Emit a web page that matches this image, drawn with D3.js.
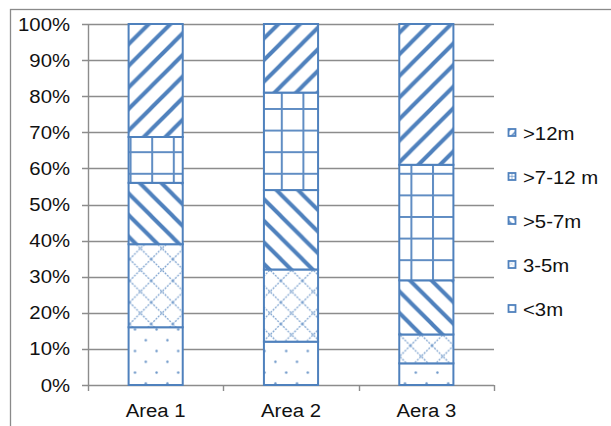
<!DOCTYPE html>
<html>
<head>
<meta charset="utf-8">
<script src="https://cdn.jsdelivr.net/npm/d3@7"></script>
<style>
  html, body { margin: 0; padding: 0; background: #fff; }
  svg { display: block; }
  text { font-family: "Liberation Sans", Arial, sans-serif; fill: #111; }
</style>
</head>
<body>
<svg id="chart" width="611" height="426"></svg>
<script>
// ---- data ----
const categories = ["Area 1", "Area 2", "Aera 3"];
const seriesNames = ["<3m", "3-5m", ">5-7m", ">7-12 m", ">12m"];
const lessThan3 = [16, 12, 6];
const from3to5 = [23, 20, 8];
const from5to7 = [17, 22, 15];
const from7to12 = [12.7, 27, 32];
const over12 = [31.3, 19, 39];
const yTickValues = [0, 10, 20, 30, 40, 50, 60, 70, 80, 90, 100];
const legendOrder = [">12m", ">7-12 m", ">5-7m", "3-5m", "<3m"];

const seriesValues = [lessThan3, from3to5, from5to7, from7to12, over12];
const rows = categories.map((c, i) => {
  const r = { cat: c };
  seriesNames.forEach((s, j) => r[s] = seriesValues[j][i]);
  return r;
});

// ---- setup ----
const svg = d3.select("#chart");
const blue = "#4F81BD";
const gridCol = "#8c8c8c";
const FS = 18, SX = 1.13;

const x = d3.scaleBand().domain(categories).range([88, 494]).paddingInner(0.6).paddingOuter(0.3);
const y = d3.scaleLinear().domain([0, 100]).range([385, 24]);

// ---- patterns ----
const defs = svg.append("defs");
const P = 21.6;
const patIds = {};
function makePattern(id, drawFn, scale) {
  const p = defs.append("pattern").attr("id", id)
    .attr("patternUnits", "userSpaceOnUse")
    .attr("width", P).attr("height", P);
  if (scale) p.attr("patternTransform", `scale(${scale})`);
  p.append("rect").attr("width", P).attr("height", P).attr("fill", "#fff");
  drawFn(p);
}
function upDiag(p) {
  p.append("path")
    .attr("d", `M0,${P} L${P},0 M${-P/2},${P/2} L${P/2},${-P/2} M${P/2},${1.5*P} L${1.5*P},${P/2}`)
    .attr("stroke", blue).attr("stroke-width", 4).attr("fill", "none");
}
function downDiag(p) {
  p.append("path")
    .attr("d", `M0,0 L${P},${P} M${-P/2},${P/2} L${P/2},${1.5*P} M${P/2},${-P/2} L${1.5*P},${P/2}`)
    .attr("stroke", blue).attr("stroke-width", 4).attr("fill", "none");
}
function gridPat(p) {
  p.append("path").attr("d", `M1,0 V${P} M0,1 H${P}`)
    .attr("stroke", blue).attr("stroke-width", 2).attr("fill", "none").attr("stroke-opacity", 0.9);
}
function crossPat(p) {
  p.append("path")
    .attr("d", `M0,0 L${P},${P} M0,${P} L${P},0`)
    .attr("stroke", blue).attr("stroke-width", 1.3).attr("fill", "none")
    .attr("stroke-opacity", 0.75).attr("stroke-dasharray", "2,1.2");
}
function dotPat(p) {
  p.append("circle").attr("cx", P * 0.25).attr("cy", P * 0.25).attr("r", 1.2).attr("fill", blue).attr("fill-opacity", 0.85);
  p.append("circle").attr("cx", P * 0.75).attr("cy", P * 0.75).attr("r", 1.2).attr("fill", blue).attr("fill-opacity", 0.85);
}
const drawers = { "<3m": dotPat, "3-5m": crossPat, ">5-7m": downDiag, ">7-12 m": gridPat, ">12m": upDiag };
seriesNames.forEach((s, i) => {
  makePattern("pat" + i, drawers[s]);
  makePattern("mini" + i, drawers[s], 0.37);
  patIds[s] = i;
});

// ---- outer frame ----
svg.append("rect").attr("x", 10.5).attr("y", 9.5).attr("width", 800).attr("height", 600)
  .attr("fill", "none").attr("stroke", "#8a8a8a").attr("stroke-width", 1.3);

// ---- gridlines ----
svg.append("g").selectAll("line").data(yTickValues).join("line")
  .attr("x1", 82).attr("x2", 494)
  .attr("y1", d => Math.round(y(d)) + 0.5).attr("y2", d => Math.round(y(d)) + 0.5)
  .attr("stroke", gridCol).attr("stroke-width", 1.4);

// y axis line
svg.append("line").attr("x1", 88.5).attr("x2", 88.5).attr("y1", y(100)).attr("y2", 391)
  .attr("stroke", gridCol).attr("stroke-width", 1.4);

// x axis ticks (boundaries)
const step = x.step();
const bounds = [1, 2, 3].map(i => 88 + i * step);
svg.append("g").selectAll("line").data(bounds).join("line")
  .attr("x1", d => Math.round(d) + 0.5).attr("x2", d => Math.round(d) + 0.5)
  .attr("y1", 385).attr("y2", 391)
  .attr("stroke", gridCol).attr("stroke-width", 1.4);

// ---- text helper ----
function addText(g, tx, ty, str, anchor) {
  g.append("text").attr("transform", `translate(${tx},${ty}) scale(${SX},1)`)
    .attr("text-anchor", anchor).attr("font-size", FS).text(str);
}

// y labels
const yl = svg.append("g");
yTickValues.forEach(v => addText(yl, 70, y(v) + 6.5, v + "%", "end"));

// x labels
const xl = svg.append("g");
categories.forEach(c => addText(xl, x(c) + x.bandwidth() / 2, 417, c, "middle"));

// ---- bars ----
const stack = d3.stack().keys(seriesNames)(rows);
svg.append("g").selectAll("g").data(stack).join("g")
  .attr("fill", d => `url(#pat${patIds[d.key]})`)
  .selectAll("rect").data(d => d).join("rect")
  .attr("x", d => x(d.data.cat))
  .attr("width", x.bandwidth())
  .attr("y", d => y(d[1]))
  .attr("height", d => y(d[0]) - y(d[1]))
  .attr("stroke", blue).attr("stroke-width", 2);

// ---- legend ----
const lg = svg.append("g");
const legendY = d3.scalePoint().domain(legendOrder).range([133, 309]);
legendOrder.forEach(s => {
  const cy = legendY(s);
  lg.append("rect").attr("x", 508.5).attr("y", cy - 4).attr("width", 7).attr("height", 7)
    .attr("fill", `url(#mini${patIds[s]})`).attr("stroke", blue).attr("stroke-width", 1.8);
  addText(lg, 523, cy + 6.5, s, "start");
});
</script>
</body>
</html>
